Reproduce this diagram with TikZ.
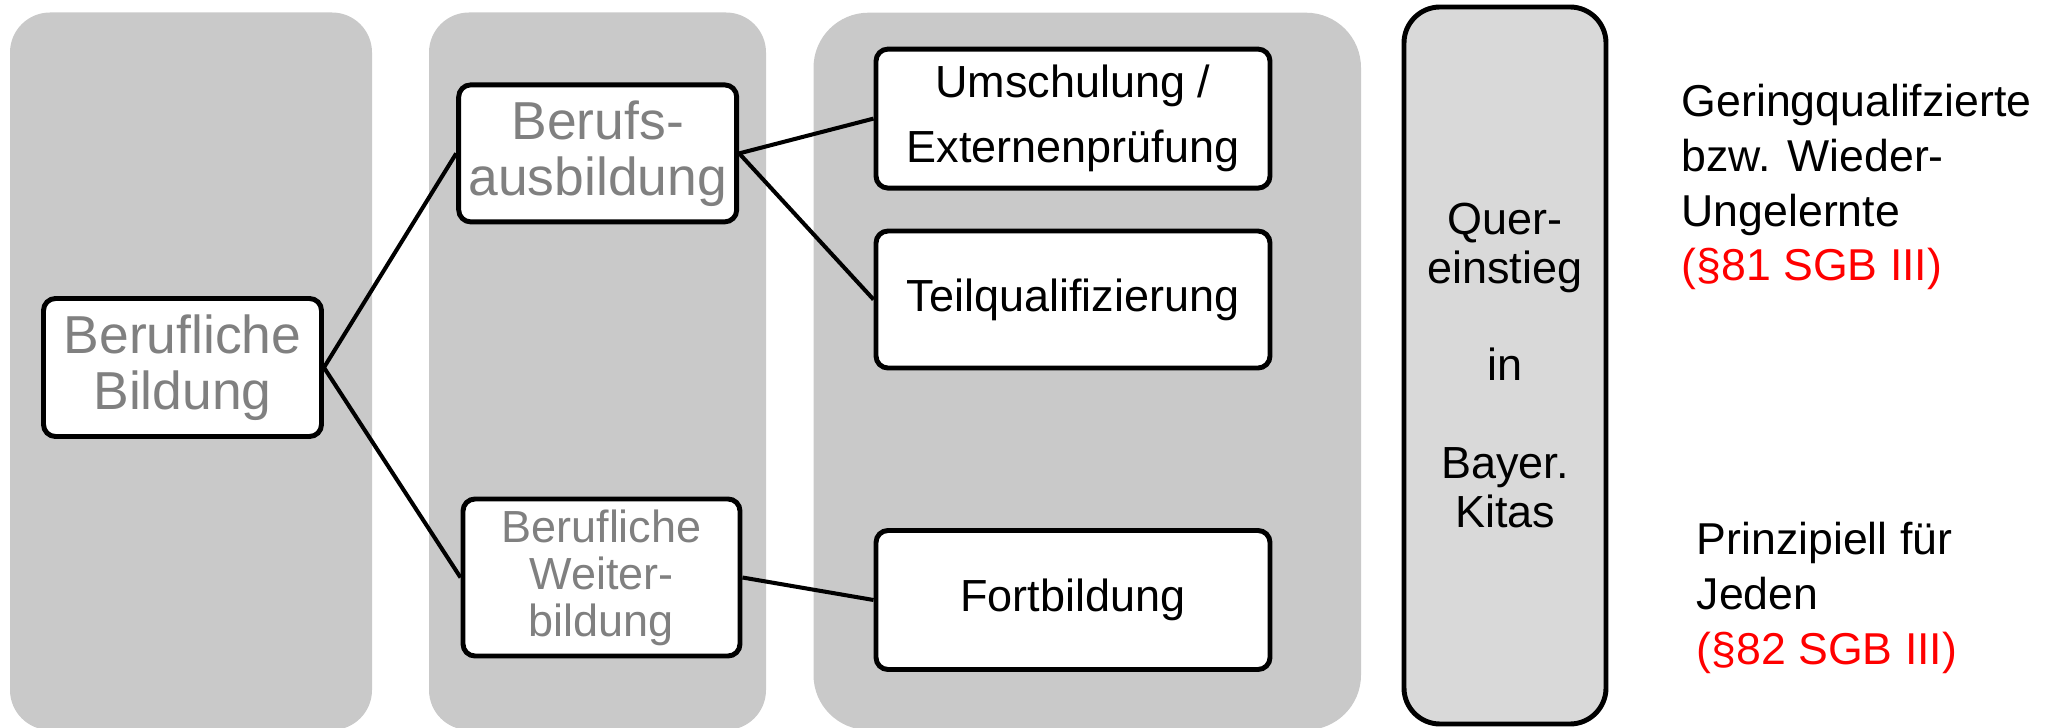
\documentclass[tikz,border=0pt]{standalone}
\usepackage{fontspec}
\setmainfont{Liberation Sans}
\usepackage{tikz}
\usetikzlibrary{positioning}
\tikzset{
    panel/.style={fill=black!21, rounded corners=0.4cm},
    gbox/.style={rectangle, rounded corners=0.12cm, draw=black, fill=white, line width=1.4pt, inner sep=0pt, align=center, text=black!50},
    bigbox/.style={gbox, minimum width=2.78cm, font=\fontsize{15.2}{15.9}\selectfont},
    smallbox/.style={gbox, minimum width=2.77cm, font=\fontsize{12.8}{13.4}\selectfont},
    kbox/.style={gbox, text=black, minimum width=3.94cm, font=\fontsize{12.8}{18.5}\selectfont},
    qbox/.style={rectangle, rounded corners=0.36cm, draw=black, fill=black!15, line width=1.4pt, inner sep=0pt, align=center, minimum width=2.02cm, minimum height=7.17cm, font=\fontsize{12.8}{13.9}\selectfont},
    note/.style={anchor=base west, inner sep=0pt, align=left, font=\fontsize{12.7}{15.6}\selectfont},
    link/.style={line width=1.15pt},
}

\begin{document}
\begin{tikzpicture}
    \useasboundingbox (0,0) rectangle (20.58,-7.28);
    % background columns
    \fill[panel] (0.10,-0.125) rectangle (3.72,-7.30);
    \fill[panel] (4.29,-0.125) rectangle (7.66,-7.30);
    \fill[panel, rounded corners=0.55cm] (8.135,-0.127) rectangle (13.61,-7.30);

    \node [bigbox, minimum height=1.38cm] (bild) at (1.825,-3.675) {Berufliche\\Bildung};
    \node [bigbox, minimum height=1.37cm] (ausb) at (5.977,-1.534) {Berufs-\\ausbildung};
    \node [smallbox, minimum height=1.57cm] (weit) at (6.015,-5.775) {Berufliche\\Weiter-\\bildung};
    \node [kbox, minimum height=1.39cm] (umsch) at (10.73,-1.186) {Umschulung /\\Externenprüfung};
    \node [kbox, minimum height=1.37cm] (teil) [below=0.38cm of umsch] {Teilqualifizierung};
    \node [kbox, minimum height=1.39cm] (fort) at (10.73,-6.00) {Fortbildung};
    \node [qbox] (quer) at (15.05,-3.655) {Quer-\\einstieg\\[13.9pt]in\\[13.9pt]Bayer.\\Kitas};

    \node [note] (gering) at (16.81,-2.81) {Geringqualifzierte\\bzw. Wieder-\\Ungelernte\\\textcolor{red}{(§81 SGB III)}};
    \node [note] (jeder) at (16.96,-6.64) {Prinzipiell für\\Jeden\\\textcolor{red}{(§82 SGB III)}};

    \draw[link] (bild.east) -- (ausb.west);
    \draw[link] (bild.east) -- (weit.west);
    \draw[link] (ausb.east) -- (umsch.west);
    \draw[link] (ausb.east) -- (teil.west);
    \draw[link] (weit.east) -- (fort.west);
\end{tikzpicture}
\end{document}
